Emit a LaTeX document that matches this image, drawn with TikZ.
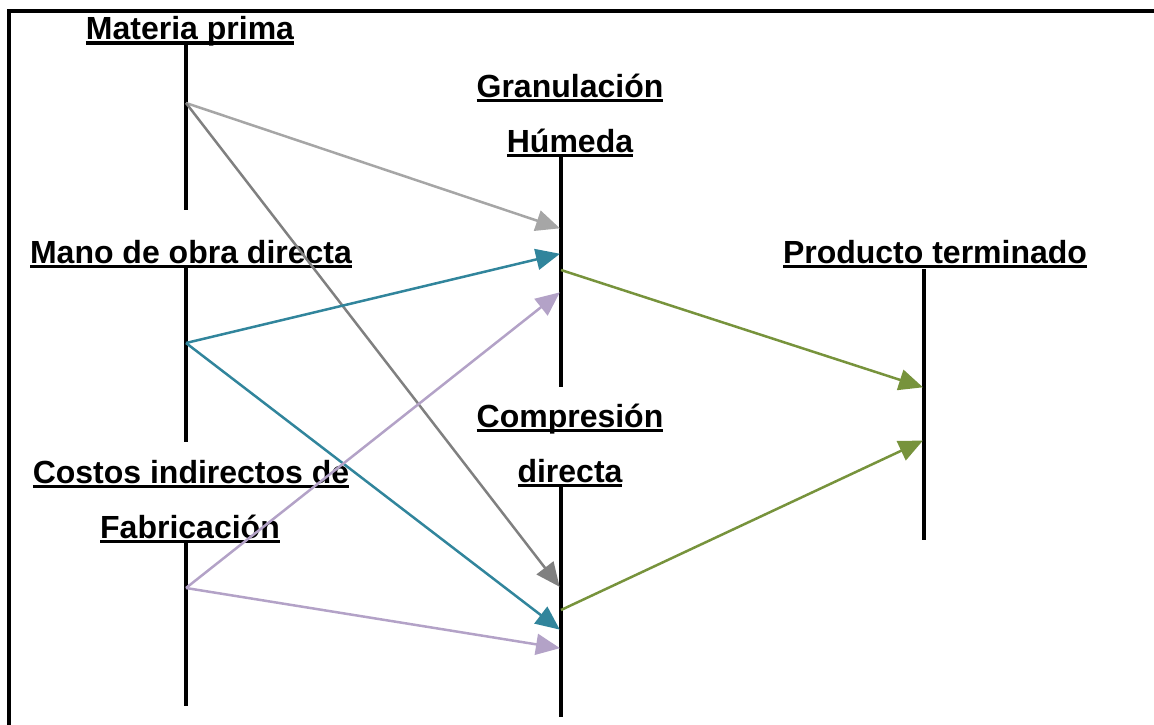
\documentclass[tikz,border=0pt]{standalone}
\usepackage{fontspec}
\setmainfont{Liberation Sans}
\usetikzlibrary{arrows.meta}
\newcommand\myul[1]{\setbox0\hbox{#1}\leavevmode\rlap{\rule[-5pt]{\wd0}{3.5pt}}\box0}
\definecolor{grayA}{HTML}{A6A6A6}
\definecolor{grayB}{HTML}{808080}
\definecolor{tealC}{HTML}{31859C}
\definecolor{lavC}{HTML}{B3A2C7}
\definecolor{greenC}{HTML}{77933C}
\begin{document}
\begin{tikzpicture}[x=1pt,y=-1pt,
  lbl/.style={anchor=base,inner sep=0pt,font=\fontsize{32}{55}\selectfont\bfseries},
  bar/.style={line width=4.5pt,black},
  arr/.style={line width=2.5pt,-{Triangle[length=24pt,width=21pt]}, shorten >=-1pt}]
\useasboundingbox (0,0) rectangle (1154,725);
\draw[line width=3.5pt] (1154,11) -- (9,11) -- (9,725);
% labels
\node[lbl] (mp) at (190,40) {\myul{Materia prima}};
\node[lbl] (mo) at (191,263) {\myul{Mano de obra directa}};
\node[lbl] (ci1) at (191,483) {\myul{Costos indirectos de}};
\node[lbl] (ci2) at (190,538) {\myul{Fabricación}};
\node[lbl] (gh1) at (570,97) {\myul{Granulación}};
\node[lbl] (gh2) at (570,152) {\myul{Húmeda}};
\node[lbl] (cd1) at (570,427) {\myul{Compresión}};
\node[lbl] (cd2) at (570,482) {\myul{directa}};
\node[lbl] (pt) at (935,263) {\myul{Producto terminado}};
% bar coordinates
\coordinate (mpT) at (186,44); \coordinate (mpB) at (186,210);
\coordinate (moT) at (186,268); \coordinate (moB) at (186,442);
\coordinate (ciT) at (186,543); \coordinate (ciB) at (186,706);
\coordinate (ghT) at (561,156); \coordinate (ghB) at (561,387);
\coordinate (cdT) at (561,487); \coordinate (cdB) at (561,717);
\coordinate (ptT) at (924,269); \coordinate (ptB) at (924,540);
\draw[bar] (mpT) -- (mpB);
\draw[bar] (moT) -- (moB);
\draw[bar] (ciT) -- (ciB);
\draw[bar] (ghT) -- (ghB);
\draw[bar] (cdT) -- (cdB);
\draw[bar] (ptT) -- (ptB);
% connection points
\coordinate (mpO) at (186,103);
\coordinate (moO) at (186,343);
\coordinate (ciO) at (186,588);
\coordinate (ghA) at (559,228);
\coordinate (ghC) at (559,254);
\coordinate (ghD) at (559,293);
\coordinate (ghO) at (561,270);
\coordinate (cdA) at (559,586);
\coordinate (cdC) at (559,629);
\coordinate (cdD) at (559,648);
\coordinate (cdO) at (561,610);
\coordinate (ptA) at (922,387);
\coordinate (ptC) at (922,441);
\draw[arr,grayA] (mpO) -- (ghA);
\draw[arr,grayB] (mpO) -- (cdA);
\draw[arr,tealC] (moO) -- (ghC);
\draw[arr,tealC] (moO) -- (cdC);
\draw[arr,lavC] (ciO) -- (ghD);
\draw[arr,lavC] (ciO) -- (cdD);
\draw[arr,greenC] (ghO) -- (ptA);
\draw[arr,greenC] (cdO) -- (ptC);
\end{tikzpicture}
\end{document}
